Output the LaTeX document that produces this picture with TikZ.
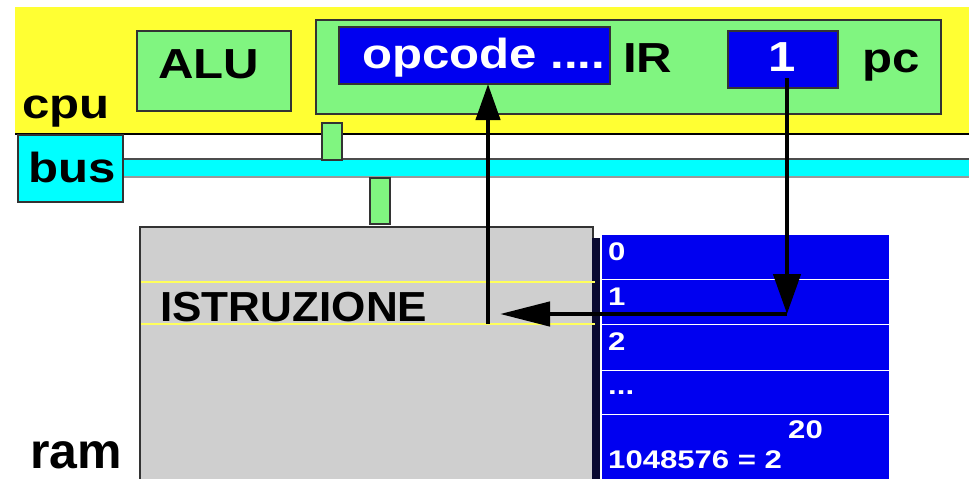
\documentclass[tikz,border=0pt]{standalone}
\usepackage{fontspec}
\usetikzlibrary{arrows.meta}
\newfontfamily\fA[FakeStretch=1.17]{Liberation Sans}
\newfontfamily\fB[FakeStretch=1.05]{Liberation Sans}
\newfontfamily\fN{Liberation Sans}
\newfontfamily\fC[FakeStretch=1.22]{Liberation Sans}
\definecolor{cpuyellow}{HTML}{FFFF33}
\definecolor{regreen}{HTML}{80F580}
\definecolor{regblue}{HTML}{0000F0}
\definecolor{buscyan}{HTML}{00FFFF}
\definecolor{ramgrey}{HTML}{CFCFCF}
\definecolor{shadow}{HTML}{0A0A30}
\tikzset{
  box/.style={draw=black!80, line width=1.2pt, inner sep=0pt, outer sep=0pt},
  big/.style={font=\fA\bfseries\fontsize{42}{42}\selectfont, inner sep=0pt, anchor=base west},
  small/.style={font=\fC\bfseries\fontsize{25.5}{25.5}\selectfont, inner sep=0pt, anchor=base west, text=white},
  flow/.style={line width=4.5pt, black},
}
\begin{document}
\begin{tikzpicture}[x=1pt,y=-1pt]
\useasboundingbox (0,0) rectangle (969,479);
\fill[white] (0,0) rectangle (969,479);
% cpu band
\fill[cpuyellow] (15,7) rectangle (969,134);
\draw[line width=1.5pt] (15,134) -- (969,134);
% bus stripe
\fill[buscyan] (123,159) rectangle (969,177);
\draw[line width=1.2pt, black!70] (123,159) -- (969,159);
\draw[line width=1.2pt, black!40] (123,177) -- (969,177);
\node[box, fill=buscyan, minimum width=105pt, minimum height=67pt, anchor=north west] (busbox) at (18,135) {};
% connectors on bus
\node[box, fill=regreen, minimum width=20pt, minimum height=37pt, anchor=north west] (c1) at (322,123) {};
\node[box, fill=regreen, minimum width=20pt, minimum height=46pt, anchor=north west] (c2) at (370,178) {};
% ALU
\node[box, fill=regreen, minimum width=154pt, minimum height=80pt, anchor=north west] (alu) at (137,31) {};
% IR/pc green
\node[box, fill=regreen, minimum width=625pt, minimum height=94pt, anchor=north west] (regs) at (316,20) {};
\node[box, fill=regblue, minimum width=271pt, minimum height=57pt, anchor=north west] (opcode) at (339,27) {};
\node[box, fill=regblue, minimum width=110pt, minimum height=57pt, anchor=north west] (pcbox) at (728,31) {};
% texts
\node[big] (tcpu) at (22,118) {cpu};
\node[big] (tbus) at (28,182) {bus};
\node[big] (talu) at (158,78) {ALU};
\node[big, text=white] (topc) at (362,68) {opcode ....};
\node[big] (tir) at (623,72) {IR};
\node[big, text=white, anchor=base] (tpc1) at (782,71) {1};
\node[big] (tpc) at (862,72) {pc};
% ram
\node[box, line width=2pt, fill=ramgrey, minimum width=453pt, minimum height=260pt, anchor=north west] (ram) at (140,227) {};
\fill[shadow] (592,238) rectangle (600,479);
\draw[cpuyellow!80!white, line width=1.8pt] (141,282) -- (595,282);
\draw[cpuyellow!80!white, line width=1.8pt] (141,324) -- (595,324);
\node[font=\fB\bfseries\fontsize{42}{42}\selectfont, inner sep=0pt, anchor=base west] (tistr) at (160,321) {ISTRUZIONE};
\node[font=\fN\bfseries\fontsize{50}{50}\selectfont, inner sep=0pt, anchor=base west] (tram) at (30,468) {ram};
% memory cells
\foreach \y/\h/\n in {234/45/m0, 279/45/m1, 324/46/m2, 370/44/m3, 414/70/m4} {
  \node[fill=regblue, draw=white, line width=1pt, inner sep=0pt, minimum width=288pt, minimum height=\h pt, anchor=north west] (\n) at (601,\y) {};
}
\node[small] (l0) at (608,260) {0};
\node[small] (l1) at (608,305) {1};
\node[small] (l2) at (608,350) {2};
\node[small] (l3) at (608,394) {...};
\node[small] (l4) at (608,468) {1048576 = 2};
\node[small] (l5) at (788,438) {20};
% arrows
\coordinate (pcs) at (787,78);
\coordinate (turn) at (787,314);
\coordinate (istr) at (488,324);
\coordinate (istrin) at (500,314);
\draw[flow, -{Triangle[length=36pt,width=24pt]}] (istr) -- (istr |- opcode.south);
\draw[flow, -{Triangle[length=40pt,width=27pt]}] (pcs) -- (turn);
\draw[flow, -{Triangle[length=50pt,width=24pt]}] (turn) -- (istrin);
\end{tikzpicture}
\end{document}
